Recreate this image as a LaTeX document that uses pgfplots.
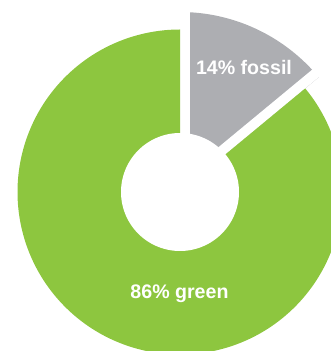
\documentclass[border=0pt]{standalone}
\usepackage{fontspec}
\setmainfont{Liberation Sans}
\usepackage{pgfplots}
\pgfplotsset{compat=1.18}
\definecolor{greenc}{RGB}{141,198,63}
\definecolor{greyc}{RGB}{173,174,178}
\begin{document}
\begin{tikzpicture}
% data: shares in percent
\def\greenpct{86}
\def\fossilpct{14}
\pgfmathsetmacro{\split}{90-3.6*\fossilpct}
\pgfmathsetmacro{\splitend}{360+\split}
\begin{axis}[
  width=331pt, height=351pt, scale only axis,
  xmin=0, xmax=331, ymin=0, ymax=351,
  axis line style={draw=none}, xtick=\empty, ytick=\empty,
  clip=true,
]
% fossil slice (larger radius)
\addplot[fill=greyc, draw=none, domain=\split:90, samples=120]
  ({180+180*cos(x)},{159+180*sin(x)}) -- (axis cs:180,159) -- cycle;
% white gaps on fossil side
\addplot[fill=white, draw=none] coordinates {(180,150) (190,150) (190,351) (180,351)} -- cycle;
\addplot[fill=white, draw=none] coordinates {(180,159) (326.4,280.1) (320.0,287.8) (173.6,166.7)} -- cycle;
% green slice
\addplot[fill=greenc, draw=none, domain=90:\splitend, samples=300]
  ({180+162.5*cos(x)},{159+162.5*sin(x)}) -- (axis cs:180,159) -- cycle;
% hole
\addplot[fill=white, draw=none, domain=0:360, samples=160]
  ({180+59*cos(x)},{159+59*sin(x)}) -- cycle;
\node[anchor=base, text=white, font=\bfseries\fontsize{19.6}{19.6}\selectfont] at (axis cs:179.5,52) {\greenpct\% green};
\node[anchor=base, text=white, font=\bfseries\fontsize{19.6}{19.6}\selectfont] at (axis cs:244,276) {\fossilpct\% fossil};
\end{axis}
\end{tikzpicture}
\end{document}
